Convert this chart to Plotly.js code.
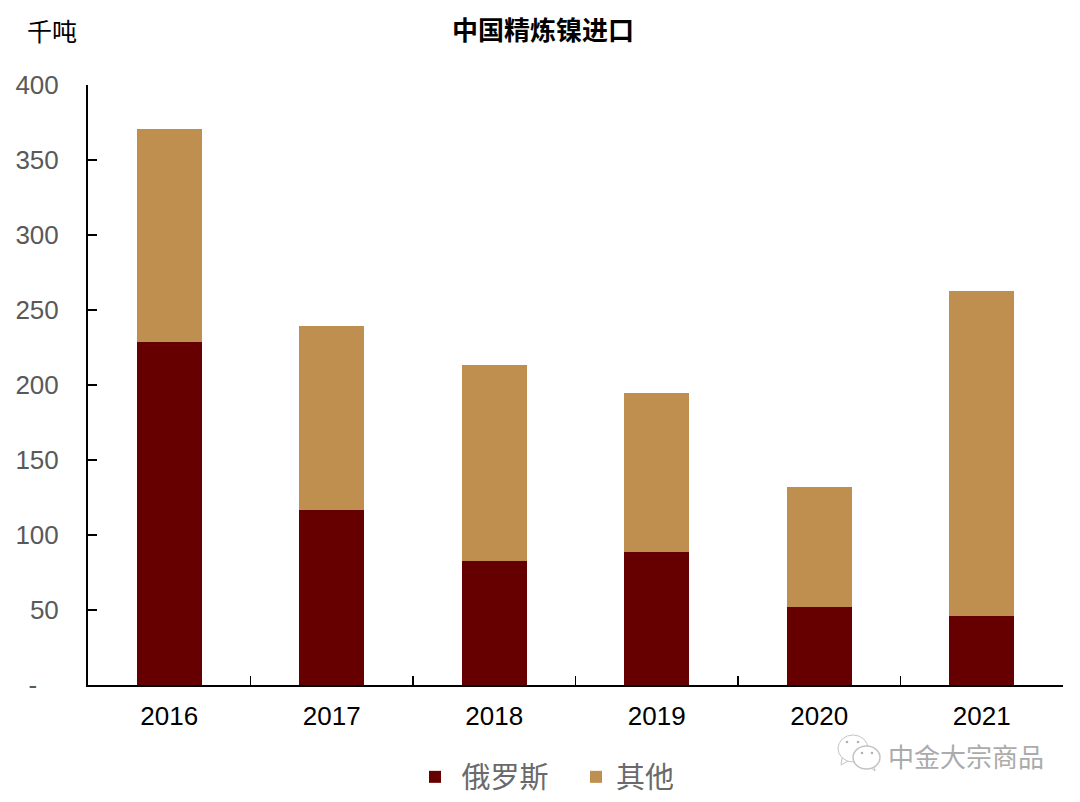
<!DOCTYPE html>
<html>
<head>
<meta charset="utf-8">
<script src="https://cdn.plot.ly/plotly-3.0.1.min.js"></script>
<style>html,body{margin:0;padding:0;background:#fff}#c{width:1080px;height:802px}</style>
</head>
<body>
<div id="c"></div>
<script>
var years = ['2016','2017','2018','2019','2020','2021'];
var russia = [228.5,117,83,88.5,52,46];
var other = [142.5,122.5,130.5,106,80,217];
var yTickVals = [0,50,100,150,200,250,300,350,400];
var yTickText = ['-\u00a0\u00a0\u00a0','50','100','150','200','250','300','350','400'];
var FONT = '"Liberation Sans","Noto Sans CJK SC",sans-serif';
var CJK = '"Noto Sans CJK SC",sans-serif';

var traces = [
  {type:'bar',name:'\u00a0俄罗斯',x:years,y:russia,marker:{color:'#660000'}},
  {type:'bar',name:'其他',x:years,y:other,marker:{color:'#BF8F4F'}}
];

var L=88,R=1063,T=85,B=685;
function px(x){return (x-L)/(R-L);}
function py(y){return (B-y)/(B-T);}
function ell(x0,y0,x1,y1,w){
  return {type:'circle',xref:'paper',yref:'paper',x0:px(x0),x1:px(x1),y0:py(y0),y1:py(y1),
    line:{color:'#c4c4c4',width:w},fillcolor:'#fff'};
}
function dot(x,y){
  return {type:'circle',xref:'paper',yref:'paper',x0:px(x-1.3),x1:px(x+1.3),y0:py(y-1.3),y1:py(y+1.3),
    line:{width:0},fillcolor:'#b0b0b0'};
}
function tail(x0,y0,x1,y1,x2,y2){
  return {type:'path',xref:'paper',yref:'paper',
    path:'M '+px(x0)+' '+py(y0)+' L '+px(x1)+' '+py(y1)+' L '+px(x2)+' '+py(y2)+' Z',
    line:{color:'#c4c4c4',width:1},fillcolor:'#fff'};
}

var layout = {
  width:1080,height:802,
  paper_bgcolor:'#fff',plot_bgcolor:'#fff',
  margin:{l:L,r:1080-R,t:T,b:802-B},
  barmode:'stack',bargap:0.6,
  font:{family:FONT},
  showlegend:true,
  legend:{orientation:'h',xref:'container',yref:'container',x:415/1080,xanchor:'left',y:25/802,yanchor:'middle',
    font:{family:CJK,size:29,color:'#6a6a6a'},itemwidth:30,traceorder:'normal',
    entrywidth:116,entrywidthmode:'pixels',
    bgcolor:'rgba(0,0,0,0)'},
  xaxis:{type:'category',tickson:'boundaries',ticks:'inside',ticklen:9,tickwidth:1.5,tickcolor:'#000',
    showline:true,linecolor:'#000',linewidth:2,showgrid:false,zeroline:false,ticklabelstandoff:7,
    tickfont:{family:FONT,size:26,color:'#000'},automargin:false},
  yaxis:{range:[0,400],tickmode:'array',tickvals:yTickVals,ticktext:yTickText,
    ticks:'inside',ticklen:9,tickwidth:1.5,tickcolor:'#000',
    showline:true,linecolor:'#000',linewidth:2,showgrid:false,zeroline:false,ticklabelstandoff:22,
    tickfont:{family:FONT,size:26,color:'#595959'},automargin:false},
  annotations:[
    {xref:'paper',yref:'paper',x:px(543),y:py(28),text:'<b>中国精炼镍进口</b>',showarrow:false,
      font:{family:CJK,size:26,color:'#000'},xanchor:'center',yanchor:'middle'},
    {xref:'paper',yref:'paper',x:px(52),y:py(30),text:'千吨',showarrow:false,
      font:{family:CJK,size:25,color:'#000'},xanchor:'center',yanchor:'middle'},
    {xref:'paper',yref:'paper',x:px(965.5),y:py(755),text:'中金大宗商品',showarrow:false,
      font:{family:CJK,size:26,color:'#ababab'},xanchor:'center',yanchor:'middle'}
  ],
  shapes:[
    tail(842,758,841,765,850,760),
    ell(838,762,868,735,1),
    tail(866,764,875,771,873,760),
    ell(853,769,880,746,1.5),
    dot(847,742),dot(858,742),dot(862,753),dot(872,753)
  ]
};
Plotly.newPlot('c',traces,layout,{displayModeBar:false,staticPlot:true});
</script>
</body>
</html>
